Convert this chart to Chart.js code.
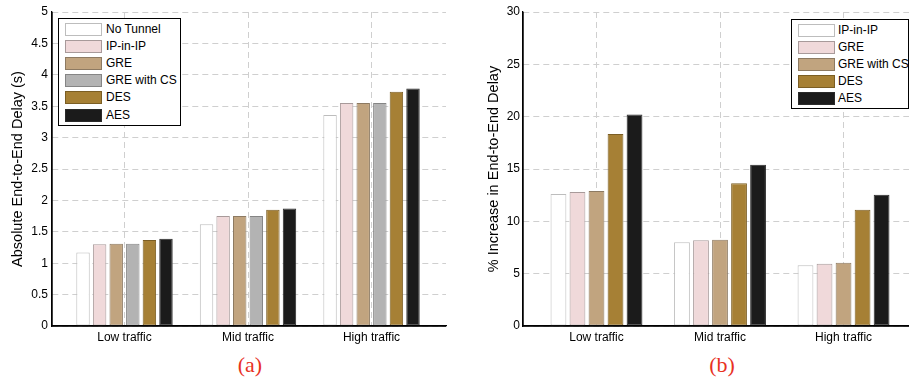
<!DOCTYPE html>
<html>
<head>
<meta charset="utf-8">
<script src="https://cdn.jsdelivr.net/npm/chart.js@4.4.0/dist/chart.umd.min.js"></script>
<style>
  body { margin: 0; background: #fff; width: 909px; height: 383px; overflow: hidden; position: relative;
         font-family: "Liberation Sans", Arial, sans-serif; }
  canvas { position: absolute; top: 0; }
  .legend { position: absolute; border: 1.3px solid #000; background: #fff; box-sizing: border-box; }
  .legend .row { position: absolute; height: 13px; }
  .legend .sw { position: absolute; left: 0; top: 0; width: 37px; height: 13px; box-sizing: border-box; border: 1px solid; }
  .legend .lb { position: absolute; top: -1px; font-size: 12px; line-height: 15px; color: #000; white-space: nowrap; }
  .cap { position: absolute; top: 352px; width: 60px; text-align: center; font-family: "Liberation Serif", "DejaVu Serif", serif;
         font-size: 22px; color: #e8321f; }
</style>
</head>
<body>
<canvas id="chartA" width="460" height="345" style="left:0"></canvas>
<canvas id="chartB" width="449" height="345" style="left:460px"></canvas>
<div id="legA" class="legend" style="left:58px;top:18px;width:123px;height:108px"></div>
<div id="legB" class="legend" style="left:791px;top:19px;width:118px;height:90px"></div>
<div class="cap" style="left:220px">(a)</div>
<div class="cap" style="left:692px">(b)</div>
<script>
// categories
const categories = ['Low traffic', 'Mid traffic', 'High traffic'];

// (a) absolute end-to-end delay, seconds
const delayNoTunnel = [1.17, 1.62, 3.36];
const delayIpInIp   = [1.30, 1.75, 3.55];
const delayGre      = [1.31, 1.75, 3.55];
const delayGreCs    = [1.31, 1.75, 3.55];
const delayDes      = [1.37, 1.85, 3.73];
const delayAes      = [1.39, 1.87, 3.78];

// (b) % increase in end-to-end delay
const incIpInIp = [12.6, 8.0, 5.8];
const incGre    = [12.8, 8.2, 5.95];
const incGreCs  = [12.9, 8.25, 6.05];
const incDes    = [18.35, 13.65, 11.1];
const incAes    = [20.2, 15.4, 12.55];

const fills = {
    white: ['#ffffff', '#bdbdbd'],
    pink:  ['#f0d9da', '#a89a9a'],
    tan:   ['#c1a47f', '#8d7a62'],
    gray:  ['#b3b3b3', '#858585'],
    gold:  ['#a68035', '#7b5e24'],
    black: ['#1b1b1b', '#2a2a2a']
};

const seriesA = [
    {label: 'No Tunnel',   data: delayNoTunnel, c: fills.white},
    {label: 'IP-in-IP',    data: delayIpInIp,   c: fills.pink},
    {label: 'GRE',         data: delayGre,      c: fills.tan},
    {label: 'GRE with CS', data: delayGreCs,    c: fills.gray},
    {label: 'DES',         data: delayDes,      c: fills.gold},
    {label: 'AES',         data: delayAes,      c: fills.black}
];
const seriesB = [
    {label: 'IP-in-IP',    data: incIpInIp, c: fills.white},
    {label: 'GRE',         data: incGre,    c: fills.pink},
    {label: 'GRE with CS', data: incGreCs,  c: fills.tan},
    {label: 'DES',         data: incDes,    c: fills.gold},
    {label: 'AES',         data: incAes,    c: fills.black}
];

const FONT = '"Liberation Sans", Arial, sans-serif';

function makeChart(id, series, o) {
    return new Chart(document.getElementById(id), {
        type: 'bar',
        data: {
            datasets: series.map(s => ({
                label: s.label,
                data: s.data.map((v, i) => ({x: i + 1, y: v})),
                backgroundColor: s.c[0],
                borderColor: s.c[1],
                borderWidth: 1,
                borderSkipped: false,
                categoryPercentage: o.catPct,
                barPercentage: o.barPct
            }))
        },
        options: {
            responsive: false,
            animation: false,
            layout: {padding: {top: 12, right: o.padRight, left: 0, bottom: 0}},
            plugins: {legend: {display: false}, tooltip: {enabled: false}},
            scales: {
                x: {
                    type: 'linear',
                    min: o.xmin,
                    max: o.xmax,
                    offset: false,
                    afterBuildTicks: s => { s.ticks = categories.map((c, i) => ({value: i + 1})); },
                    afterFit: s => { s.height = 19; },
                    ticks: {
                        callback: v => categories[v - 1],
                        color: '#000',
                        padding: 4,
                        maxRotation: 0,
                        font: {family: FONT, size: 12}
                    },
                    grid: {color: '#cfcfcf', drawTicks: false, offset: false},
                    border: {color: '#000', width: 1.3, dash: [6, 4]}
                },
                y: {
                    min: 0,
                    max: o.ymax,
                    afterFit: s => { s.width = o.yWidth; },
                    ticks: {
                        stepSize: o.ystep,
                        callback: v => String(v),
                        color: '#000',
                        padding: o.tickPad,
                        font: {family: FONT, size: 12}
                    },
                    grid: {color: '#cfcfcf', drawTicks: false},
                    border: {color: '#000', width: 1.3, dash: [6, 4]},
                    title: {
                        display: true,
                        text: o.title,
                        color: '#000',
                        font: {family: FONT, size: 14.5},
                        padding: {top: o.titlePad, bottom: 0}
                    }
                }
            }
        },
        plugins: [{
            // solid axis lines; grid lines stay dashed
            id: 'axes',
            afterDraw(chart) {
                const {ctx, chartArea: a} = chart;
                ctx.save();
                ctx.strokeStyle = '#000';
                ctx.lineWidth = 1.3;
                ctx.setLineDash([]);
                ctx.beginPath();
                ctx.moveTo(a.left, a.top);
                ctx.lineTo(a.left, a.bottom);
                ctx.lineTo(a.right, a.bottom);
                ctx.stroke();
                ctx.restore();
            }
        }]
    });
}

function makeLegend(id, series, textLeft) {
    const box = document.getElementById(id);
    series.forEach((s, i) => {
        const row = document.createElement('div');
        row.className = 'row';
        row.style.left = '6px';
        row.style.top = (3.5 + i * 17.2) + 'px';
        row.innerHTML = '<div class="sw" style="background:' + s.c[0] + ';border-color:' + s.c[1] + '"></div>' +
            '<div class="lb" style="left:' + textLeft + 'px">' + s.label + '</div>';
        box.appendChild(row);
    });
}

makeChart('chartA', seriesA, {
    xmin: 0.413, xmax: 3.603, ymax: 5, ystep: 0.5, yWidth: 52, padRight: 14,
    catPct: 0.806, barPct: 0.81, tickPad: 4, titlePad: 9,
    title: 'Absolute End-to-End Delay (s)'
});
makeChart('chartB', seriesB, {
    xmin: 0.405, xmax: 3.53, ymax: 30, ystep: 5, yWidth: 63, padRight: 0,
    catPct: 0.77, barPct: 0.83, tickPad: 3, titlePad: 25,
    title: '% Increase in End-to-End Delay'
});
makeLegend('legA', seriesA, 41);
makeLegend('legB', seriesB, 40);
</script>
</body>
</html>
